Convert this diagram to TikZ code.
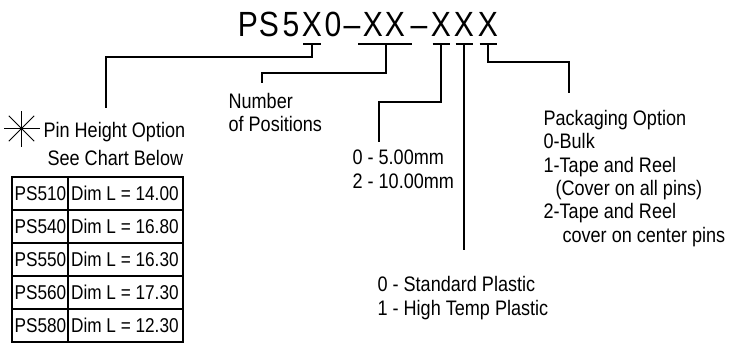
\documentclass[tikz,border=0pt]{standalone}
\usepackage{fontspec}
\setmainfont{Liberation Sans}[FakeStretch=0.86]
\usepackage{tikz}

\begin{document}
\begin{tikzpicture}[x=1pt,y=-1pt,line width=1.2pt,
    titlech/.style={inner sep=0pt,anchor=base,font=\fontsize{35}{40}\selectfont},
    lbl/.style={inner sep=0pt,anchor=base west,font=\fontsize{21}{24}\selectfont},
    cell/.style={lbl,font=\fontsize{20}{24}\selectfont}]
  \useasboundingbox (0,0) rectangle (750,345);

  % part number
  \foreach \c/\x [count=\i] in {P/248,S/269,5/291,X/312,0/333,--/352,X/373,X/395,--/419,X/441,X/464,X/488}
    \node[titlech] (t\i) at (\x,37) {\c};

  % labels
  \node[lbl] (pin1) at (43,137) {Pin Height Option};
  \node[lbl] (pin2) at (47,165) {See Chart Below};
  \node[lbl] (num1) at (228,108) {Number};
  \node[lbl] (num2) at (228,131) {of Positions};
  \node[lbl] (mm1) at (352,164) {0 - 5.00mm};
  \node[lbl] (mm2) at (352,188) {2 - 10.00mm};
  \node[lbl] (pl1) at (377,291) {0 - Standard Plastic};
  \node[lbl] (pl2) at (377,315) {1 - High Temp Plastic};
  \foreach \txt/\dx/\y [count=\i] in {Packaging Option/0/125, 0-Bulk/0/148, 1-Tape and Reel/0/172,
      {(Cover on all pins)}/12/195, 2-Tape and Reel/0/218, cover on center pins/19/242}
    \node[lbl] (pk\i) at (543+\dx,\y) {\txt};

  % star
  \coordinate (star) at (21.5,128.5);
  \foreach \a in {0,45,90,135}
    \draw[line width=1pt] (star) ++(\a:18) -- ++(\a+180:36);

  % chart
  \draw (12,177) rectangle (183,342);
  \draw (68,177) -- (68,342);
  \foreach \y in {210,243,276,309}
    \draw (12,\y) -- (183,\y);
  \foreach \pn/\len [count=\i] in {PS510/14.00,PS540/16.80,PS550/16.30,PS560/17.30,PS580/12.30} {
    \node[cell] (pn\i) at (14,167.5+33*\i) {\pn};
    \node[cell] (dim\i) at (70.5,167.5+33*\i) {Dim L = \len};
  }

  % bars under the part number
  \draw ([shift={(-9,7)}]t4.base) -- ([shift={(9,7)}]t4.base);
  \draw ([shift={(-15,7)}]t7.base) -- ([shift={(17,7)}]t8.base);
  \foreach \i in {10,11,12}
    \draw ([shift={(-8.5,7)}]t\i.base) -- ([shift={(8.5,7)}]t\i.base);

  % leaders
  \draw ([yshift=-7pt]t4.base) -- ++(0,13) -| ([shift={(63,-29)}]pin1.base west);
  \draw ([shift={(13,7)}]t7.base) -- ++(0,29) -| ([shift={(34,-25)}]num1.base west);
  \draw ([yshift=-7pt]t10.base) -- ++(0,58) -| ([shift={(27,-22)}]mm1.base west);
  \draw ([yshift=-7pt]t11.base) -- ([shift={(87,-41)}]pl1.base west);
  \draw ([yshift=-7pt]t12.base) -- ++(0,18) -| ([shift={(26,-32)}]pk1.base west);
\end{tikzpicture}
\end{document}
